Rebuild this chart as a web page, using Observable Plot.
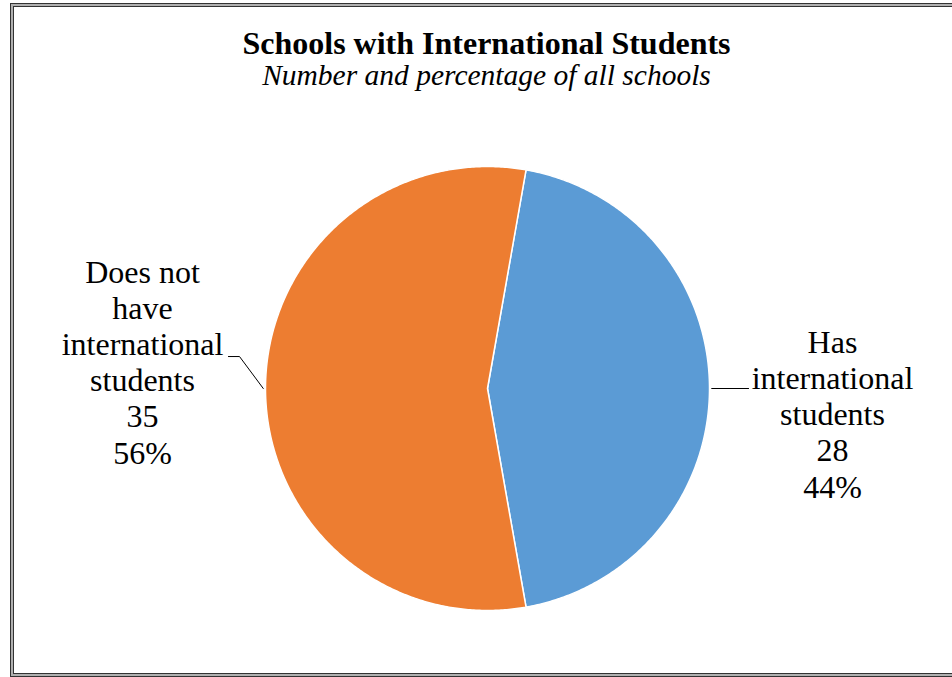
<!DOCTYPE html>
<html>
<head>
<meta charset="utf-8">
<script src="https://cdn.jsdelivr.net/npm/d3@7"></script>
<script src="https://cdn.jsdelivr.net/npm/@observablehq/plot@0.6"></script>
<style>
  html, body { margin: 0; padding: 0; background: #fff; overflow: hidden; }
  body { width: 952px; height: 677px; position: relative; font-family: "Liberation Serif", "Times New Roman", serif; }
  .frame {
    position: absolute; left: 10px; top: 3px; width: 960px; height: 674px; box-sizing: border-box;
    border: 1px solid #333;
    box-shadow: inset 0 0 0 2px #b0b0b0, inset 0 0 0 3px #333;
    pointer-events: none; z-index: 2;
  }
  .title, .subtitle { position: absolute; left: 10px; width: 953px; text-align: center; line-height: 1; white-space: nowrap; z-index: 3; }
  .title { top: 26.5px; font-size: 32px; font-weight: bold; }
  .subtitle { top: 60.5px; font-size: 29.5px; font-style: italic; }
  #chart { position: absolute; left: 0; top: 0; z-index: 1; }
  #chart svg text { font-family: "Liberation Serif", "Times New Roman", serif; }
</style>
</head>
<body>
<div class="frame"></div>
<div class="title">Schools with International Students</div>
<div class="subtitle">Number and percentage of all schools</div>
<div id="chart"></div>
<script>
// ---- data ----
const categories = ["Has international students", "Does not have international students"];
const categoryLines = [["Has", "international", "students"], ["Does not", "have", "international", "students"]];
const counts = [28, 35];
const percentLabels = ["44%", "56%"];
const colors = ["#5B9BD5", "#ED7D31"];

// ---- layout ----
const cx = 487, cy = 388, R = 222;
const startDeg = 10;

const pie = d3.pie().sort(null).startAngle(startDeg * Math.PI / 180).endAngle((startDeg + 360) * Math.PI / 180);
const arcs = pie(counts);

// slice polygons in unit coordinates (y up), angles clockwise from 12 o'clock
const slicePts = [];
arcs.forEach((a, i) => {
  const cat = categories[i];
  slicePts.push({cat, x: 0, y: 0});
  const n = Math.max(2, Math.ceil((a.endAngle - a.startAngle) / (Math.PI / 360)));
  for (let k = 0; k <= n; k++) {
    const t = a.startAngle + (a.endAngle - a.startAngle) * k / n;
    slicePts.push({cat, x: Math.sin(t), y: Math.cos(t)});
  }
});

// labels & leader lines
const labelAnchor = [
  {x: 1.554, y: -0.491},   // right label (last baseline)
  {x: -1.554, y: -0.338}   // left label
];
const labels = arcs.map((a, i) => ({
  text: [...categoryLines[i], String(counts[i]), percentLabels[i]].join("\n"),
  x: labelAnchor[i].x, y: labelAnchor[i].y
}));

const leaders = [];
arcs.forEach((a, i) => {
  const mid = (a.startAngle + a.endAngle) / 2;
  const p0 = {x: 1.01 * Math.sin(mid), y: 1.01 * Math.cos(mid)};
  if (i === 0) {
    leaders.push({g: i, ...p0}, {g: i, x: 1.176, y: p0.y});
  } else {
    leaders.push({g: i, ...p0}, {g: i, x: -1.117, y: 0.144}, {g: i, x: -1.167, y: 0.144});
  }
});

const chart = Plot.plot({
  width: 952, height: 677, margin: 0,
  style: {background: "transparent", overflow: "visible", fontFamily: "Liberation Serif"},
  x: {domain: [-1, 1], range: [cx - R, cx + R], axis: null},
  y: {domain: [-1, 1], range: [cy + R, cy - R], axis: null},
  color: {domain: categories, range: colors},
  marks: [
    Plot.line(slicePts, {x: "x", y: "y", z: "cat", fill: "cat", stroke: "white", strokeWidth: 1.5, curve: "linear-closed", strokeLinejoin: "round"}),
    Plot.line(leaders, {x: "x", y: "y", z: "g", stroke: "#000", strokeWidth: 1}),
    Plot.text(labels, {x: "x", y: "y", text: "text", textAnchor: "middle", lineAnchor: "bottom",
      lineHeight: 1.131, fontSize: 32, fontFamily: "Liberation Serif", fill: "#000"})
  ]
});
document.getElementById("chart").appendChild(chart);
</script>
</body>
</html>
